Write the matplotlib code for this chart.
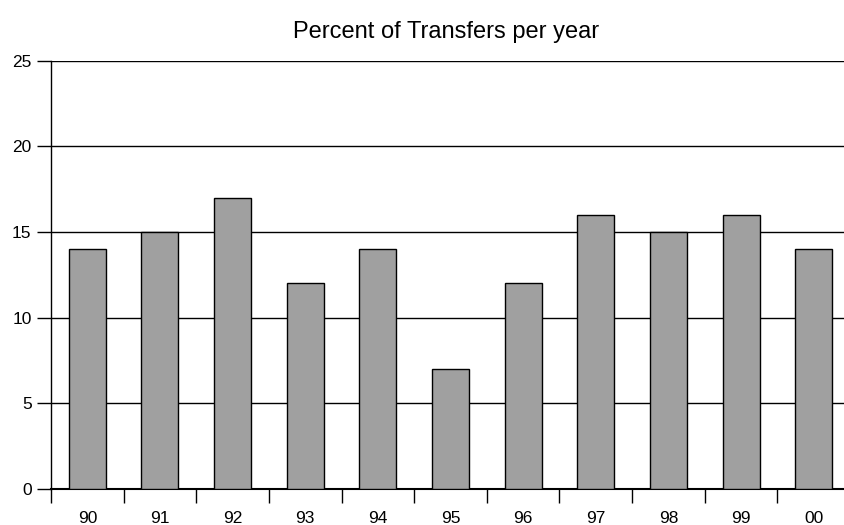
import matplotlib.pyplot as plt
import numpy as np

years = ['90', '91', '92', '93', '94', '95', '96', '97', '98', '99', '00']
percent = [14, 15, 17, 12, 14, 7, 12, 16, 15, 16, 14]

plt.rcParams['font.family'] = ['Liberation Sans', 'DejaVu Sans']

fig = plt.figure(figsize=(8.44, 5.25), dpi=100)
W, H = 844, 525
ax = fig.add_axes([51 / W, (H - 488.7) / H, (850 - 51) / W, (488.7 - 60.7) / H])

x = np.arange(len(years))
ax.bar(x, percent, width=0.51, color='#a0a0a0', edgecolor='black', linewidth=1, zorder=3)

#Axes limits and grid
ax.set_xlim(-0.5, len(years) - 0.5)
ax.set_ylim(0, 25)
ax.set_yticks([0, 5, 10, 15, 20, 25])
ax.yaxis.grid(True, color='black', linewidth=1)
ax.set_axisbelow(True)

#Ticks between the categories, labels in the middle
ax.set_xticks(x)
ax.set_xticklabels(years)
ax.set_xticks(np.arange(len(years) + 1) - 0.5, minor=True)
ax.tick_params(axis='x', which='major', length=0, pad=16, labelsize=12.5)
ax.tick_params(axis='x', which='minor', length=10, width=1, direction='out')
ax.tick_params(axis='y', length=10, width=1, labelsize=12.5, pad=4)

for s in ['top', 'right']:
    ax.spines[s].set_visible(False)
ax.spines['left'].set_linewidth(1)
ax.spines['bottom'].set_linewidth(1.5)

fig.text(446 / W, 1 - 32 / H, 'Percent of Transfers per year',
         ha='center', va='center', fontsize=17)

plt.savefig('out.png', dpi=100)
